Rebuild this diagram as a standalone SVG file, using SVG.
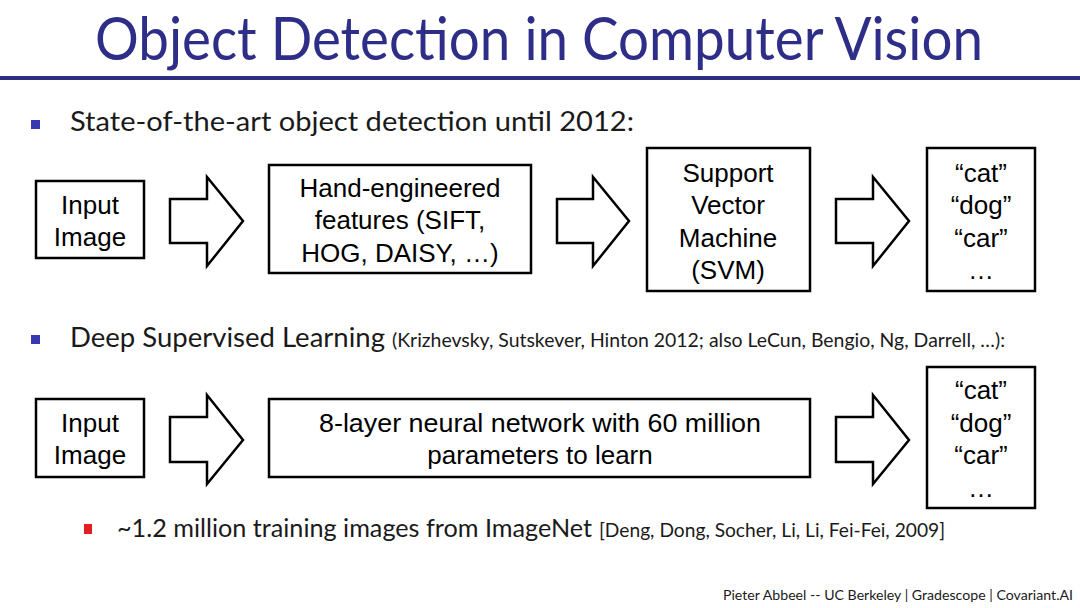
<svg xmlns="http://www.w3.org/2000/svg" width="1080" height="608" viewBox="0 0 1080 608">
<style>
.box{fill:#fff;stroke:#000;stroke-width:2.5}
.arr{fill:#fff;stroke:#000;stroke-width:2.5;stroke-linejoin:miter}
.bt{font-family:"Liberation Sans",Arial,sans-serif;font-size:26px;fill:#000;text-anchor:middle}
.sl{font-family:Lato,"Open Sans",sans-serif;fill:#1a1a1a}
</style>
<rect width="1080" height="608" fill="#fff"/>
<g id="title">
<text x="95" y="60" class="sl" font-size="60" style="fill:#2e2e88" textLength="888" lengthAdjust="spacingAndGlyphs">Object Detection in Computer Vision</text>
<rect x="0" y="76" width="1080" height="4" fill="#2e2e7e"/>
</g>
<g id="bullet1">
<rect x="31" y="120" width="9" height="9" fill="#3838b0"/>
<text x="70" y="131" class="sl" font-size="27" textLength="564" lengthAdjust="spacingAndGlyphs">State-of-the-art object detection until 2012:</text>
</g>
<g id="bullet2">
<rect x="31" y="335" width="9" height="9" fill="#3838b0"/>
<text x="70" y="347" class="sl" font-size="27" textLength="315" lengthAdjust="spacingAndGlyphs">Deep Supervised Learning</text>
<text x="392" y="347" class="sl" font-size="20" textLength="613" lengthAdjust="spacingAndGlyphs">(Krizhevsky, Sutskever, Hinton 2012; also LeCun, Bengio, Ng, Darrell, …):</text>
</g>
<g id="bullet3">
<rect x="84" y="524" width="8" height="10" fill="#e02020"/>
<text x="117" y="537" class="sl" font-size="25" textLength="475" lengthAdjust="spacingAndGlyphs">~1.2 million training images from ImageNet</text>
<text x="599" y="537" class="sl" font-size="19" textLength="346" lengthAdjust="spacingAndGlyphs">[Deng, Dong, Socher, Li, Li, Fei-Fei, 2009]</text>
</g>
<g id="footer">
<text x="723" y="600" class="sl" font-size="14" textLength="350" lengthAdjust="spacingAndGlyphs">Pieter Abbeel -- UC Berkeley | Gradescope | Covariant.AI</text>
</g>
<g id="connectors">
<polygon class="arr" points="170,199 207,199 207,177 243,221 207,266 207,243 170,243"/>
<polygon class="arr" points="557,199 593,199 593,177 629,221 593,266 593,243 557,243"/>
<polygon class="arr" points="836,199 873,199 873,177 909,221 873,266 873,243 836,243"/>
<polygon class="arr" points="170,417 207,417 207,395 243,440 207,484 207,462 170,462"/>
<polygon class="arr" points="836,417 873,417 873,395 909,440 873,484 873,462 836,462"/>
</g>
<g id="input1">
<rect class="box" x="36" y="181" width="108" height="77"/>
<text class="bt" x="90" y="214">Input</text>
<text class="bt" x="90" y="246">Image</text>
</g>
<g id="features">
<rect class="box" x="269" y="165" width="262" height="108"/>
<text class="bt" x="400" y="197">Hand-engineered</text>
<text class="bt" x="400" y="229">features (SIFT,</text>
<text class="bt" x="400" y="262">HOG, DAISY, …)</text>
</g>
<g id="svm">
<rect class="box" x="647" y="148" width="163" height="143"/>
<text class="bt" x="728" y="182">Support</text>
<text class="bt" x="728" y="214">Vector</text>
<text class="bt" x="728" y="247">Machine</text>
<text class="bt" x="728" y="279">(SVM)</text>
</g>
<g id="labels1">
<rect class="box" x="927" y="148" width="108" height="143"/>
<text class="bt" x="981" y="182">“cat”</text>
<text class="bt" x="981" y="214">“dog”</text>
<text class="bt" x="981" y="247">“car”</text>
<text class="bt" x="981" y="279">…</text>
</g>
<g id="input2">
<rect class="box" x="36" y="399" width="108" height="78"/>
<text class="bt" x="90" y="432">Input</text>
<text class="bt" x="90" y="464">Image</text>
</g>
<g id="nn">
<rect class="box" x="269" y="399" width="541" height="78"/>
<text class="bt" x="540" y="432" textLength="442" lengthAdjust="spacingAndGlyphs">8-layer neural network with 60 million</text>
<text class="bt" x="540" y="464">parameters to learn</text>
</g>
<g id="labels2">
<rect class="box" x="927" y="367" width="108" height="141"/>
<text class="bt" x="981" y="399">“cat”</text>
<text class="bt" x="981" y="432">“dog”</text>
<text class="bt" x="981" y="464">“car”</text>
<text class="bt" x="981" y="497">…</text>
</g>
</svg>
